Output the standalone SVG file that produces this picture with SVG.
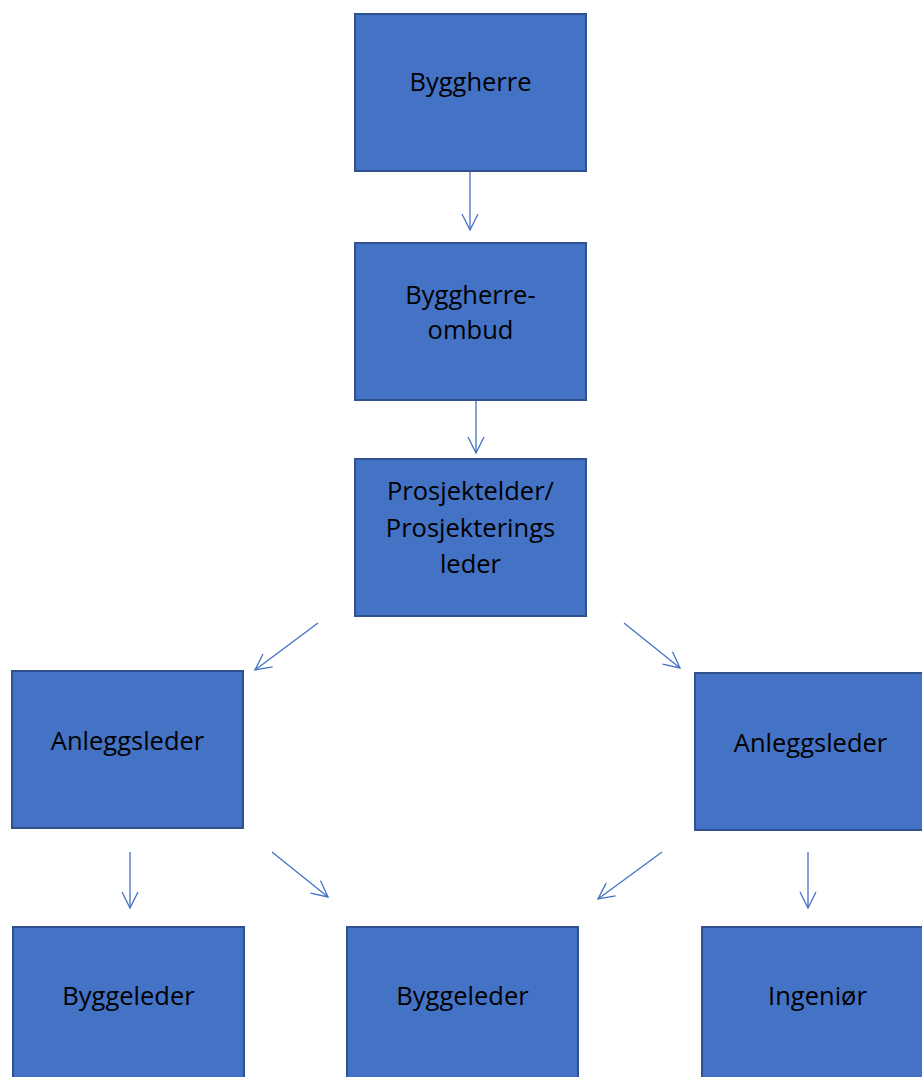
<svg xmlns="http://www.w3.org/2000/svg" width="922" height="1077" viewBox="0 0 922 1077">
<defs>
<marker id="arr" viewBox="0 0 20 20" refX="18" refY="10" markerWidth="20" markerHeight="20" markerUnits="userSpaceOnUse" orient="auto">
<path d="M2,2 L18,10 L2,18" fill="none" stroke="#4472C4" stroke-width="1.3"/>
</marker>
<style>
.box{fill:#4472C4;stroke:#2F528F;stroke-width:2}
.lbl{font-family:"Open Sans","Liberation Sans",sans-serif;font-size:25.5px;fill:#000;text-anchor:middle}
.con{stroke:#4472C4;stroke-width:1.3;fill:none;marker-end:url(#arr)}
</style>
</defs>
<rect width="922" height="1077" fill="#fff"/>
<g id="connectors">
<line class="con" x1="470" y1="172" x2="470" y2="230"/>
<line class="con" x1="476" y1="401" x2="476" y2="453"/>
<line class="con" x1="318" y1="623" x2="255" y2="670"/>
<line class="con" x1="624" y1="623" x2="680" y2="668"/>
<line class="con" x1="130" y1="852" x2="130" y2="908"/>
<line class="con" x1="272" y1="852" x2="328" y2="897"/>
<line class="con" x1="662" y1="852" x2="598" y2="899"/>
<line class="con" x1="808" y1="852" x2="808" y2="908"/>
</g>
<g id="byggherre">
<rect class="box" x="355" y="14" width="231" height="157"/>
<text class="lbl" x="470.5" y="91">Byggherre</text>
</g>
<g id="byggherreombud">
<rect class="box" x="355" y="243" width="231" height="157"/>
<text class="lbl" x="470.5" y="304">Byggherre-</text>
<text class="lbl" x="470.5" y="339">ombud</text>
</g>
<g id="prosjektleder">
<rect class="box" x="355" y="459" width="231" height="157"/>
<text class="lbl" x="470.5" y="500">Prosjektelder/</text>
<text class="lbl" x="470.5" y="537">Prosjekterings</text>
<text class="lbl" x="470.5" y="573">leder</text>
</g>
<g id="anleggsleder-left">
<rect class="box" x="12" y="671" width="231" height="157"/>
<text class="lbl" x="127.5" y="750">Anleggsleder</text>
</g>
<g id="anleggsleder-right">
<rect class="box" x="695" y="673" width="231" height="157"/>
<text class="lbl" x="810.5" y="752">Anleggsleder</text>
</g>
<g id="byggeleder-left">
<rect class="box" x="13" y="927" width="231" height="160"/>
<text class="lbl" x="128.5" y="1005">Byggeleder</text>
</g>
<g id="byggeleder-middle">
<rect class="box" x="347" y="927" width="231" height="160"/>
<text class="lbl" x="462.5" y="1005">Byggeleder</text>
</g>
<g id="ingenior">
<rect class="box" x="702" y="927" width="231" height="160"/>
<text class="lbl" x="817.5" y="1005">Ingeniør</text>
</g>
</svg>
